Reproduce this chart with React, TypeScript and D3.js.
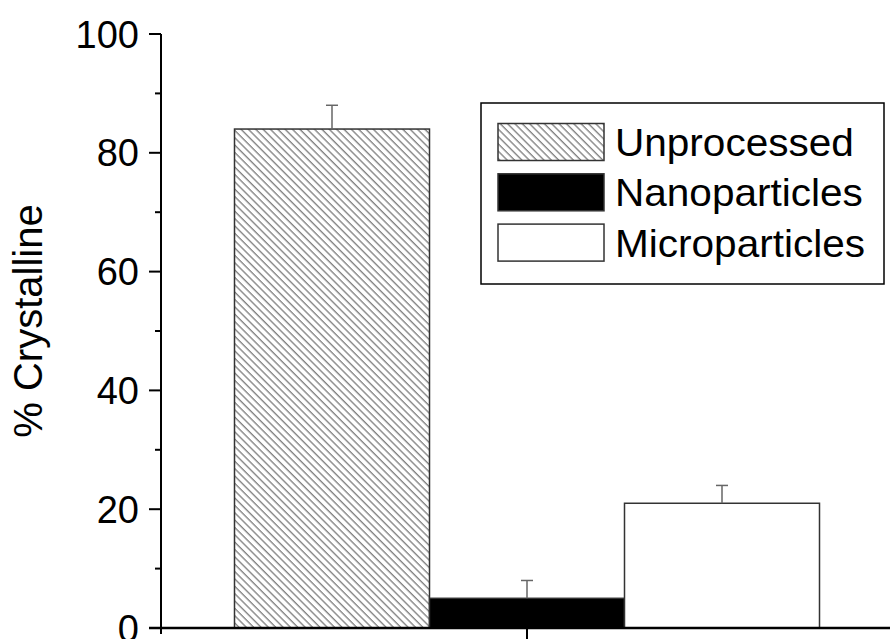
import React from "react";
import * as d3 from "d3";

const series: string[] = ["Unprocessed", "Nanoparticles", "Microparticles"];
const values: number[] = [84, 5, 21];
const errors: number[] = [4, 3, 3];
const yTicks: number[] = [0, 20, 40, 60, 80, 100];
const yMinorTicks: number[] = [10, 30, 50, 70, 90];
const groups: string[] = [""];

const W = 890;
const H = 639;

export default function App() {
  const y = d3.scaleLinear().domain([0, 100]).range([628, 34]);
  const xg = d3.scaleBand<string>().domain(groups).range([161, 893]);
  const gc = (xg(groups[0]) as number) + xg.bandwidth() / 2;
  const barW = 195;
  const xs = d3
    .scaleBand<string>()
    .domain(series)
    .range([gc - (barW * series.length) / 2, gc + (barW * series.length) / 2]);

  const fills = ["url(#hatch)", "#000", "#fff"];
  const font = "'Liberation Sans', Arial, Helvetica, sans-serif";

  return (
    <svg
      width={W}
      height={H}
      style={{ position: "absolute", left: 0, top: 0, background: "#fff" }}
      fontFamily={font}
    >
      <defs>
        <pattern
          id="hatch"
          patternUnits="userSpaceOnUse"
          width={5.2}
          height={5.2}
          patternTransform="rotate(-45)"
        >
          <rect width={5.2} height={5.2} fill="#fff" />
          <line x1={1} y1={0} x2={1} y2={5.2} stroke="#555" strokeWidth={1} />
        </pattern>
      </defs>
      <rect width={W} height={H} fill="#fff" />

      {/* bars */}
      {series.map((s, i) => (
        <rect
          key={s}
          x={xs(s) as number}
          y={y(values[i])}
          width={xs.bandwidth()}
          height={y(0) - y(values[i])}
          fill={fills[i]}
          stroke="#333"
          strokeWidth={1.5}
        />
      ))}

      {/* error bars */}
      {series.map((s, i) => {
        const cx = (xs(s) as number) + xs.bandwidth() / 2;
        return (
          <g key={s + "e"} stroke="#666" strokeWidth={1.5}>
            <line x1={cx} x2={cx} y1={y(values[i])} y2={y(values[i] + errors[i])} />
            <line x1={cx - 6} x2={cx + 6} y1={y(values[i] + errors[i])} y2={y(values[i] + errors[i])} />
          </g>
        );
      })}

      {/* y axis */}
      <line x1={161} x2={161} y1={y(100)} y2={634} stroke="#000" strokeWidth={2} />
      {yTicks.map((t) => (
        <g key={t}>
          <line x1={149} x2={161} y1={y(t)} y2={y(t)} stroke="#000" strokeWidth={2} />
          <text x={139} y={y(t)} dy="0.36em" textAnchor="end" fontSize={38} fill="#000">
            {t}
          </text>
        </g>
      ))}
      {yMinorTicks.map((t) => (
        <line key={t} x1={155} x2={161} y1={y(t)} y2={y(t)} stroke="#000" strokeWidth={2} />
      ))}

      {/* x axis */}
      <line x1={149} x2={W} y1={y(0)} y2={y(0)} stroke="#000" strokeWidth={2.5} />
      <line x1={gc} x2={gc} y1={y(0)} y2={641} stroke="#000" strokeWidth={2} />

      {/* y label */}
      <text
        transform={`translate(42, ${321}) rotate(-90)`}
        textAnchor="middle"
        fontSize={40}
        fill="#000"
      >
        % Crystalline
      </text>

      {/* legend */}
      <rect x={481} y={103} width={403} height={181} fill="#fff" stroke="#000" strokeWidth={1.5} />
      {series.map((s, i) => {
        const cy = 142 + i * 50.3;
        return (
          <g key={s + "l"}>
            <rect
              x={498}
              y={cy - 18.5}
              width={106}
              height={37}
              fill={fills[i]}
              stroke="#333"
              strokeWidth={1.5}
            />
            <text
              transform={`translate(615, ${cy}) scale(1.04, 1)`}
              dy="0.36em"
              fontSize={39}
              fill="#000"
            >
              {s}
            </text>
          </g>
        );
      })}
    </svg>
  );
}
